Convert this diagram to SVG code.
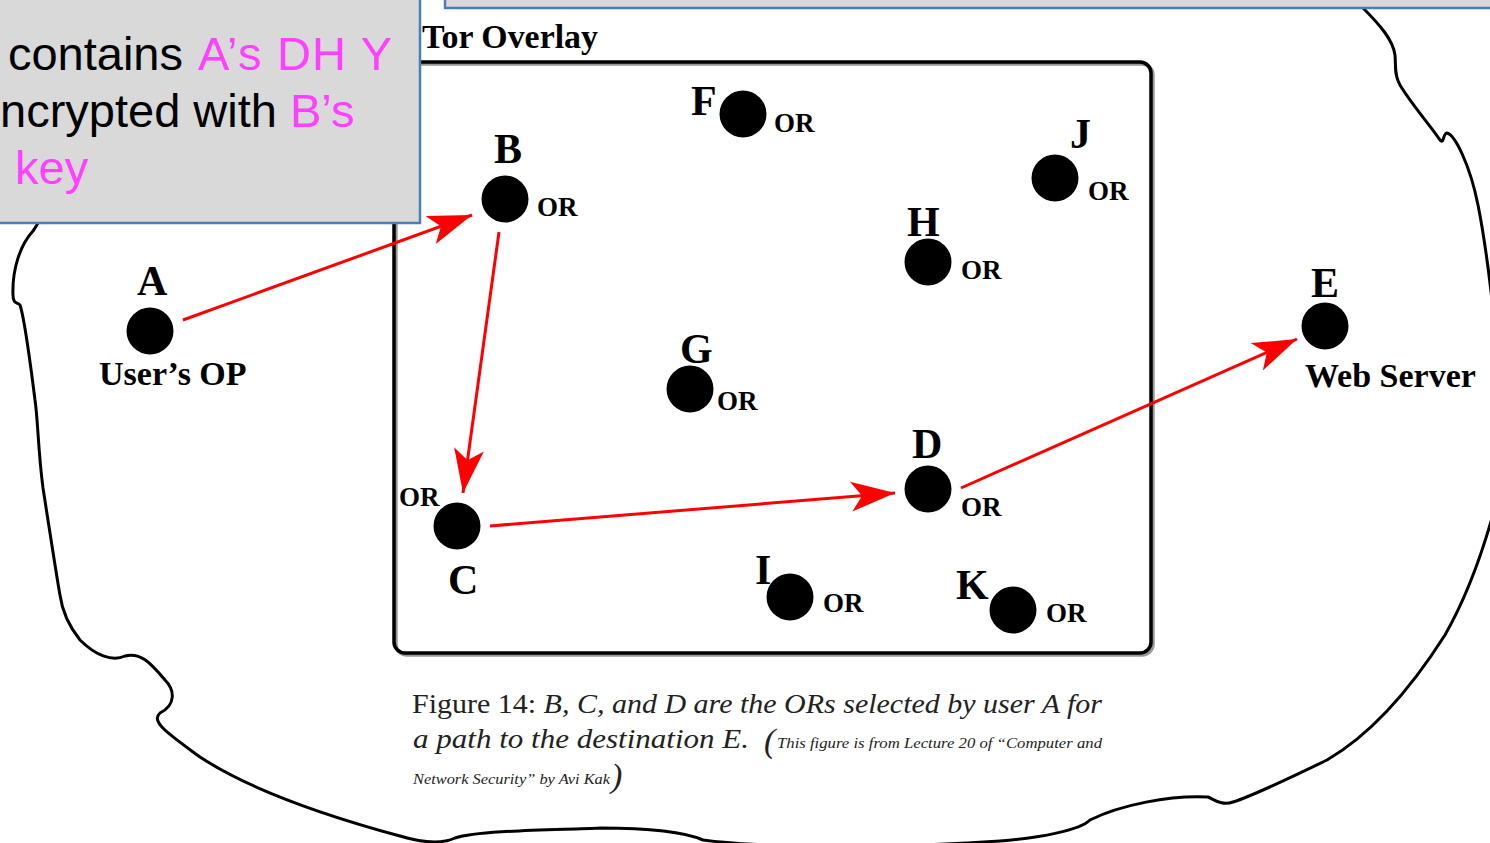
<svg xmlns="http://www.w3.org/2000/svg" width="1490" height="843" viewBox="0 0 1490 843">
<style>
.lbl{font-family:"Liberation Serif","Times New Roman",serif;font-weight:bold;font-size:42px;fill:#000}
.or{font-family:"Liberation Serif","Times New Roman",serif;font-weight:bold;font-size:27px;fill:#000}
.big{font-family:"Liberation Serif","Times New Roman",serif;font-weight:bold;font-size:34px;fill:#000}
.dot{fill:#000}
.arrow{stroke:#ff0000;stroke-width:3;fill:none}
.cap{font-family:"Liberation Serif","DejaVu Serif",serif;fill:#222}
.call{font-family:"Liberation Sans",Arial,sans-serif;font-size:47px;fill:#000}
.pink{fill:#ff40ff}
.panel{fill:#d9d9d9;stroke:#4a7ebb;stroke-width:2.5}
</style>
<defs>
<marker id="ah" markerUnits="userSpaceOnUse" markerWidth="46" markerHeight="32" refX="44" refY="16" orient="auto" viewBox="0 0 46 32">
<path d="M0,1 L44,16 L0,31 L11,16 Z" fill="#ff0000"/>
</marker>
</defs>
<rect width="1490" height="843" fill="#fff"/>
<g id="cloud">
<path fill="none" stroke="#000" stroke-width="3" d="M1355,0 L1363,8 C1380,25 1393,40 1395,55 C1396,65 1394,75 1400,85 C1412,105 1430,125 1440,140 C1444,145 1443,133 1447,133 C1455,135 1470,165 1478,205 C1484,235 1488,265 1492,300 C1500,360 1505,460 1492,518 C1480,560 1465,600 1445,635 C1410,690 1370,735 1327,760 C1290,778 1255,795 1233,802 C1222,806 1215,800 1208,797 C1170,795 1120,805 1090,820 C1080,830 1040,838 1000,841 C900,848 760,848 703,840 C680,830 640,828 600,828 C560,830 480,830 455,838 C440,845 420,842 400,836 C330,817 250,790 200,757 C170,735 150,722 160,713 C176,705 175,690 165,680 C150,662 140,652 125,656 C112,662 95,655 80,640 C68,625 62,610 60,595 C58,585 48,520 43,488 C38,450 38,420 35,400 C30,360 25,320 20,305 C18,302 13,305 13,295 C12,270 20,245 33,231 L40,220"/>
</g>
<g id="overlay-box">
<rect x="396" y="64" width="757" height="591" rx="11" fill="none" stroke="#999" stroke-width="3.5"/>
<rect x="394" y="62" width="757" height="591" rx="11" fill="none" stroke="#000" stroke-width="3.5"/>
<text x="422" y="48" class="big" font-size="36" textLength="176" lengthAdjust="spacingAndGlyphs">Tor Overlay</text>
</g>
<g id="connectors">
<line class="arrow" x1="183" y1="320" x2="472" y2="215" marker-end="url(#ah)"/>
<line class="arrow" x1="499" y1="232" x2="463" y2="493" marker-end="url(#ah)"/>
<line class="arrow" x1="490" y1="526" x2="895" y2="493" marker-end="url(#ah)"/>
<line class="arrow" x1="961" y1="488" x2="1297" y2="339" marker-end="url(#ah)"/>
</g>
<g id="node-A">
<ellipse class="dot" cx="150" cy="331" rx="23.5" ry="23.5"/>
<text x="137" y="295" class="lbl">A</text>
<text x="99" y="385" class="big">User’s OP</text>
</g>
<g id="node-B">
<ellipse class="dot" cx="505" cy="199" rx="23.5" ry="23.5"/>
<text x="494" y="163" class="lbl">B</text>
<text x="537" y="216" class="or">OR</text>
</g>
<g id="node-F">
<ellipse class="dot" cx="743" cy="114" rx="23.5" ry="23.5"/>
<text x="691" y="115" class="lbl">F</text>
<text x="774" y="132" class="or">OR</text>
</g>
<g id="node-J">
<ellipse class="dot" cx="1055" cy="178" rx="23.5" ry="23.5"/>
<text x="1070" y="148" class="lbl">J</text>
<text x="1088" y="200" class="or">OR</text>
</g>
<g id="node-H">
<ellipse class="dot" cx="928" cy="262" rx="23.5" ry="23.5"/>
<text x="907" y="236" class="lbl">H</text>
<text x="961" y="279" class="or">OR</text>
</g>
<g id="node-G">
<ellipse class="dot" cx="690" cy="389" rx="23.5" ry="23.5"/>
<text x="680" y="363" class="lbl">G</text>
<text x="717" y="410" class="or">OR</text>
</g>
<g id="node-D">
<ellipse class="dot" cx="928" cy="489" rx="23.5" ry="23.5"/>
<text x="912" y="458" class="lbl">D</text>
<text x="961" y="516" class="or">OR</text>
</g>
<g id="node-C">
<ellipse class="dot" cx="457" cy="526" rx="23.5" ry="23.5"/>
<text x="399" y="506" class="or">OR</text>
<text x="448" y="594" class="lbl">C</text>
</g>
<g id="node-I">
<ellipse class="dot" cx="790" cy="597" rx="23.5" ry="23.5"/>
<text x="755" y="584" class="lbl">I</text>
<text x="823" y="612" class="or">OR</text>
</g>
<g id="node-K">
<ellipse class="dot" cx="1013" cy="610" rx="23.5" ry="23.5"/>
<text x="956" y="599" class="lbl">K</text>
<text x="1046" y="622" class="or">OR</text>
</g>
<g id="node-E">
<ellipse class="dot" cx="1325" cy="326" rx="23.5" ry="23.5"/>
<text x="1311" y="297" class="lbl">E</text>
<text x="1305" y="387" class="big">Web Server</text>
</g>
<g id="caption">
<text x="412" y="713" class="cap" font-size="27" textLength="690" lengthAdjust="spacingAndGlyphs">Figure 14: <tspan font-style="italic">B, C, and D are the ORs selected by user A for</tspan></text>
<text x="413" y="748" class="cap" font-size="27" font-style="italic" textLength="336" lengthAdjust="spacingAndGlyphs">a path to the destination E.</text>
<text x="764" y="752" class="cap" font-size="34" font-style="italic">(</text>
<text x="777" y="748" class="cap" font-size="14.5" font-style="italic" textLength="325" lengthAdjust="spacingAndGlyphs">This figure is from Lecture 20 of “Computer and</text>
<text x="413" y="784" class="cap" font-size="14.5" font-style="italic" textLength="197" lengthAdjust="spacingAndGlyphs">Network Security” by Avi Kak</text>
<text x="611" y="787" class="cap" font-size="34" font-style="italic">)</text>
</g>
<g id="top-panel">
<rect class="panel" x="445" y="-5" width="1060" height="13"/>
</g>
<g id="callout">
<rect class="panel" x="-5" y="-5" width="425" height="228"/>
<text x="8" y="70" class="call" textLength="175" lengthAdjust="spacingAndGlyphs">contains</text>
<text x="198" y="70" class="call pink" textLength="194" lengthAdjust="spacing">A’s DH Y</text>
<text x="0" y="127" class="call">ncrypted with <tspan class="pink">B’s</tspan></text>
<text x="15" y="184" class="call pink">key</text>
</g>
</svg>
